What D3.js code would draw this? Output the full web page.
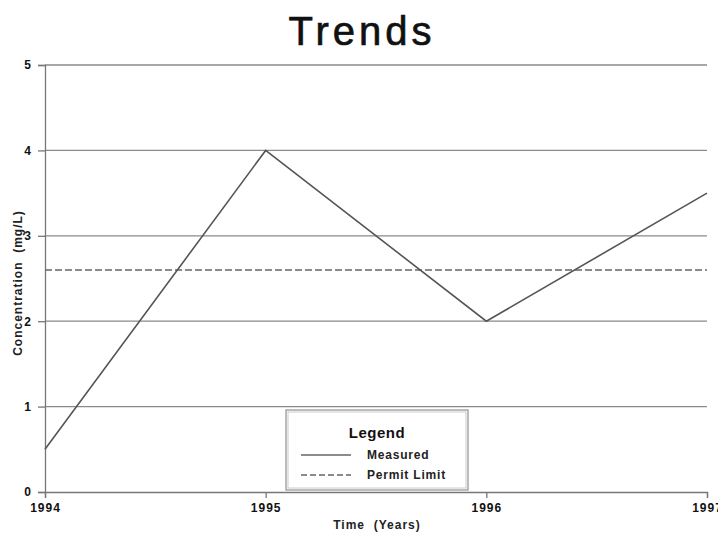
<!DOCTYPE html>
<html>
<head>
<meta charset="utf-8">
<script src="https://cdn.jsdelivr.net/npm/d3@7"></script>
<style>
  body { margin: 0; background: #fff; }
  svg { font-family: "Liberation Sans", Arial, sans-serif; }
</style>
</head>
<body>
<svg id="chart" width="718" height="539"></svg>
<script>
const years = [1994, 1995, 1996, 1997];
const measured = [0.5, 4, 2, 3.5];
const permitLimit = [2.6, 2.6, 2.6, 2.6];
const yTicks = [0, 1, 2, 3, 4, 5];
const legendLabels = ['Measured', 'Permit Limit'];

const width = 718;
const height = 539;
const margin = { top: 65, right: 11, bottom: 47, left: 45 };
const innerWidth = width - margin.left - margin.right;
const innerHeight = height - margin.top - margin.bottom;

const svg = d3.select('#chart');

const x = d3.scaleLinear().domain([1994, 1997]).range([0, innerWidth]);
const y = d3.scaleLinear().domain([0, 5]).range([innerHeight, 0]);

// title
svg.append('text')
  .attr('x', 362)
  .attr('y', 45)
  .attr('text-anchor', 'middle')
  .attr('font-size', 40)
  .attr('letter-spacing', 4)
  .attr('fill', '#111')
  .attr('stroke', '#111')
  .attr('stroke-width', 0.7)
  .text('Trends');

const chart = svg.append('g')
  .attr('transform', `translate(${margin.left},${margin.top})`);

// gridlines
chart.selectAll('.grid')
  .data(yTicks.filter(d => d > 0))
  .enter()
  .append('line')
  .attr('x1', 0)
  .attr('x2', innerWidth)
  .attr('y1', d => y(d))
  .attr('y2', d => y(d))
  .attr('stroke', '#8a8a8a')
  .attr('stroke-width', 1.3);

// y axis
const yAxis = chart.append('g')
  .call(d3.axisLeft(y).tickValues(yTicks).tickFormat(d3.format('d')).tickSize(7).tickPadding(7));

// x axis
const xAxis = chart.append('g')
  .attr('transform', `translate(0,${innerHeight})`)
  .call(d3.axisBottom(x).tickValues(years).tickFormat(d3.format('d')).tickSize(6).tickPadding(3));

[yAxis, xAxis].forEach(ax => {
  ax.select('.domain').attr('stroke', '#777').attr('stroke-width', 1.3);
  ax.selectAll('.tick line').attr('stroke', '#777').attr('stroke-width', 1.3);
  ax.selectAll('.tick text')
    .attr('fill', '#111')
    .attr('font-size', 12)
    .attr('font-weight', 'bold')
    .attr('font-family', '"Liberation Sans", Arial, sans-serif');
});
xAxis.selectAll('.tick text').attr('dy', '0.9em').attr('letter-spacing', 1);

// axis titles
svg.append('text')
  .attr('x', 377)
  .attr('y', 529)
  .attr('text-anchor', 'middle')
  .attr('font-size', 12)
  .attr('font-weight', 'bold')
  .attr('letter-spacing', 1)
  .attr('fill', '#222')
  .attr('xml:space', 'preserve')
  .text('Time  (Years)');

svg.append('text')
  .attr('transform', 'translate(22,283) rotate(-90)')
  .attr('text-anchor', 'middle')
  .attr('font-size', 12)
  .attr('font-weight', 'bold')
  .attr('letter-spacing', 1)
  .attr('fill', '#222')
  .attr('xml:space', 'preserve')
  .text('Concentration  (mg/L)');

// lines
const line = d3.line()
  .x((d, i) => x(years[i]))
  .y(d => y(d));

chart.append('path')
  .datum(permitLimit)
  .attr('d', line)
  .attr('fill', 'none')
  .attr('stroke', '#666')
  .attr('stroke-width', 1.5)
  .attr('stroke-dasharray', '7,3');

chart.append('path')
  .datum(measured)
  .attr('d', line)
  .attr('fill', 'none')
  .attr('stroke', '#555')
  .attr('stroke-width', 1.6);

// legend
const legend = svg.append('g').attr('transform', 'translate(286,410)');
legend.append('rect')
  .attr('width', 182)
  .attr('height', 80)
  .attr('fill', '#fff')
  .attr('stroke', '#999')
  .attr('stroke-width', 1.3);
legend.append('rect')
  .attr('x', 2).attr('y', 2)
  .attr('width', 178)
  .attr('height', 76)
  .attr('fill', 'none')
  .attr('stroke', '#ccc')
  .attr('stroke-width', 1);
legend.append('text')
  .attr('x', 91)
  .attr('y', 28)
  .attr('text-anchor', 'middle')
  .attr('font-size', 15)
  .attr('font-weight', 'bold')
  .attr('letter-spacing', 0.5)
  .attr('fill', '#111')
  .text('Legend');

const items = legend.selectAll('.item')
  .data(legendLabels)
  .enter()
  .append('g')
  .attr('transform', (d, i) => `translate(0,${45 + i * 20})`);
items.append('line')
  .attr('x1', 15).attr('x2', 65)
  .attr('stroke', '#666')
  .attr('stroke-width', 1.5)
  .attr('stroke-dasharray', (d, i) => i === 1 ? '6,3' : null);
items.append('text')
  .attr('x', 81)
  .attr('y', 4)
  .attr('font-size', 12)
  .attr('font-weight', 'bold')
  .attr('letter-spacing', 0.8)
  .attr('fill', '#222')
  .text(d => d);
</script>
</body>
</html>
